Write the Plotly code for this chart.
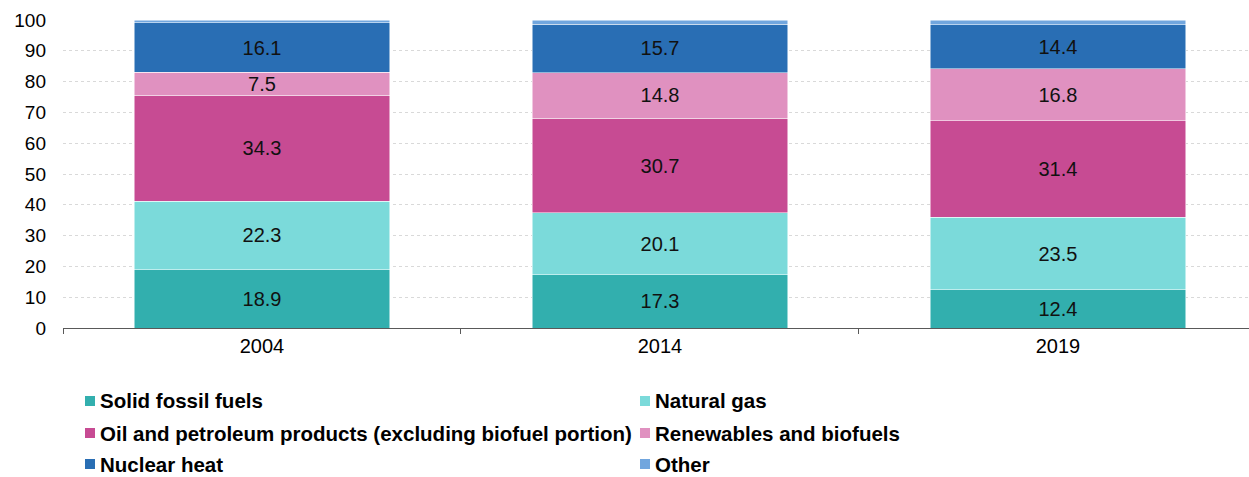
import plotly.graph_objects as go

years = ["2004", "2014", "2019"]
solid_fossil = [18.9, 17.3, 12.4]
natural_gas = [22.3, 20.1, 23.5]
oil_petroleum = [34.3, 30.7, 31.4]
renewables = [7.5, 14.8, 16.8]
nuclear = [16.1, 15.7, 14.4]
other = [0.9, 1.4, 1.5]

series = [
    ("Solid fossil fuels", solid_fossil, "#32afae", True),
    ("Natural gas", natural_gas, "#7bdada", True),
    ("Oil and petroleum products (excluding biofuel portion)", oil_petroleum, "#c74b93", True),
    ("Renewables and biofuels", renewables, "#e091c0", True),
    ("Nuclear heat", nuclear, "#296eb4", True),
    ("Other", other, "#71a6de", False),
]

FONT = "Liberation Sans, Arial, sans-serif"

fig = go.Figure()
for name, vals, color, labelled in series:
    fig.add_trace(go.Bar(
        x=years, y=vals, name=name,
        marker=dict(color=color, line=dict(color="white", width=0.5)),
        text=[f"{v:.1f}" for v in vals] if labelled else None,
        textposition="inside" if labelled else "none",
        insidetextanchor="middle",
        textangle=0,
        constraintext="none",
        textfont=dict(family=FONT, size=20, color="#111111"),
        showlegend=False,
        hoverinfo="name+y",
    ))

# Legend drawn as two columns of square swatches with bold labels
W, H = 1249, 477
L, T, B = 63, 20, 149
PW, PH = W - L, H - T - B
legend_cols_x = [85, 640]
legend_rows_y = [401, 433, 464]
shapes = []
annotations = []
for i, (name, vals, color, labelled) in enumerate(series):
    col = i % 2
    row = i // 2
    x0 = legend_cols_x[col]
    yc = legend_rows_y[row]
    shapes.append(dict(
        type="rect", xref="paper", yref="paper",
        x0=(x0 - L) / PW, x1=(x0 + 10 - L) / PW,
        y0=(H - B - yc - 5) / PH, y1=(H - B - yc + 5) / PH,
        fillcolor=color, line=dict(width=0),
    ))
    annotations.append(dict(
        xref="paper", yref="paper",
        x=(x0 + 14 - L) / PW, y=(H - B - yc) / PH,
        xanchor="left", yanchor="middle", showarrow=False,
        borderpad=0,
        text=f"<b>{name}</b>",
        font=dict(family=FONT, size=20.5, color="#000000"),
    ))

fig.update_layout(
    width=W, height=H,
    margin=dict(l=L, r=0, t=T, b=B),
    paper_bgcolor="white", plot_bgcolor="white",
    barmode="stack", bargap=0.357,
    font=dict(family=FONT, size=19, color="#000000"),
    shapes=shapes, annotations=annotations,
    xaxis=dict(
        type="category", range=[-0.5, 2.48],
        showline=True, linecolor="#595959", linewidth=1,
        ticks="outside", tickson="boundaries", ticklen=5, tickcolor="#595959",
        tickfont=dict(family=FONT, size=20, color="#000000"),
        showgrid=False,
    ),
    yaxis=dict(
        range=[0, 100], dtick=10, showline=False, zeroline=False,
        showgrid=True, gridcolor="#d9d9d9", griddash="dot", gridwidth=1,
        tickfont=dict(family=FONT, size=19, color="#000000"),
        ticks="", ticklabelstandoff=16,
    ),
)

fig.write_html("out.html")
